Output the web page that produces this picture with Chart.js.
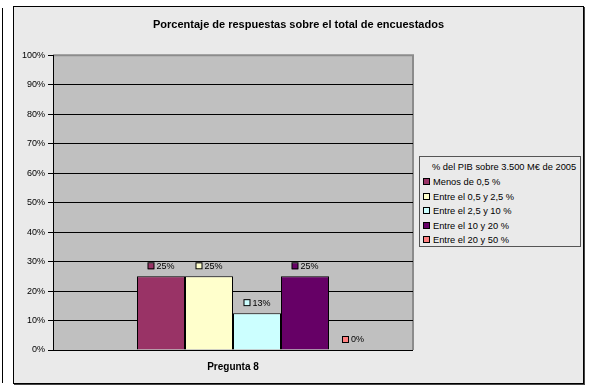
<!DOCTYPE html>
<html>
<head>
<meta charset="utf-8">
<script src="https://cdn.jsdelivr.net/npm/chart.js@4.4.0/dist/chart.umd.min.js"></script>
<style>
  body { margin: 0; background: #fff; width: 589px; height: 389px; position: relative; overflow: hidden; font-family: "Liberation Sans", Arial, sans-serif; }
  #side { position: absolute; left: 2px; top: 8px; width: 0; height: 375px; border-left: 1px solid #000; }
  #frame { position: absolute; left: 13px; top: 6px; width: 569px; height: 376px; border: 1px solid #000; background: #eaeaea; box-shadow: 1px 1px 0 #444; }
  #frame canvas { position: absolute; left: 0; top: 0; }
  #legend { position: absolute; left: 405px; top: 149px; width: 160px; height: 89px; border: 1px solid #555; background: #eaeaea; font-size: 9.3px; color: #000; }
  #legend .ttl { position: absolute; left: 12px; top: 5px; white-space: nowrap; }
  #legend .it { position: absolute; left: 3px; white-space: nowrap; }
  #legend .sw { display: inline-block; width: 5px; height: 5px; border: 1px solid #000; margin-right: 3px; vertical-align: 0px; }
</style>
</head>
<body>
<div id="side"></div>
<div id="frame">
  <canvas id="chart" width="569" height="376"></canvas>
  <div id="legend"></div>
</div>
<script>
const titulo = 'Porcentaje de respuestas sobre el total de encuestados';
const tituloLeyenda = '% del PIB sobre 3.500 M€ de 2005';
const categorias = ['Pregunta 8'];
const series = ['Menos de 0,5 %', 'Entre el 0,5 y 2,5 %', 'Entre el 2,5 y 10 %', 'Entre el 10 y 20 %', 'Entre el 20 y 50 %'];
const valores = [25, 25, 12.5, 25, 0];
const colores = ['#993366', '#ffffcc', '#ccffff', '#660066', '#ff8080'];

// hueco vacío antes de las series (como en el original)
const datasets = [{ label: '', data: [null], backgroundColor: 'transparent', borderWidth: 0, hueco: true }];
series.forEach((s, i) => {
  datasets.push({
    label: s,
    data: [valores[i]],
    backgroundColor: colores[i],
    borderColor: '#000',
    borderWidth: 1
  });
});

// leyenda en HTML
const leg = document.getElementById('legend');
leg.innerHTML = '<div class="ttl">' + tituloLeyenda + '</div>' +
  series.map((s, i) => '<div class="it" style="top:' + (20 + i * 14.6) + 'px"><span class="sw" style="background:' + colores[i] + '"></span>' + s + '</div>').join('');

const fondoPlot = {
  id: 'fondoPlot',
  beforeDraw(chart) {
    const { ctx, chartArea: a } = chart;
    ctx.save();
    ctx.fillStyle = '#c0c0c0';
    ctx.fillRect(a.left, a.top, a.right - a.left, a.bottom - a.top);
    ctx.strokeStyle = '#8c8c8c';
    ctx.lineWidth = 2;
    ctx.beginPath();
    ctx.moveTo(a.left, a.top);
    ctx.lineTo(a.right, a.top);
    ctx.lineTo(a.right, a.bottom);
    ctx.stroke();
    ctx.restore();
  }
};

const etiquetas = {
  id: 'etiquetas',
  afterDatasetsDraw(chart) {
    const ctx = chart.ctx;
    ctx.save();
    ctx.font = '9px "Liberation Sans", Arial, sans-serif';
    ctx.textBaseline = 'middle';
    chart.data.datasets.forEach((ds, di) => {
      if (ds.hueco) return;
      chart.getDatasetMeta(di).data.forEach((bar, j) => {
        const txt = Math.round(ds.data[j]) + '%';
        const tw = ctx.measureText(txt).width;
        const total = 7 + 2 + tw;
        const x0 = bar.x - total / 2;
        const y = bar.y - 10;
        ctx.fillStyle = ds.backgroundColor;
        ctx.fillRect(x0 + 0.5, y - 3, 6, 6);
        ctx.strokeStyle = '#000';
        ctx.lineWidth = 1;
        ctx.strokeRect(x0 + 0.5, y - 3.5, 6, 6);
        ctx.fillStyle = '#000';
        ctx.textAlign = 'left';
        ctx.fillText(txt, x0 + 9, y);
      });
    });
    ctx.restore();
  }
};

new Chart(document.getElementById('chart'), {
  type: 'bar',
  data: { labels: categorias, datasets: datasets },
  plugins: [fondoPlot, etiquetas],
  options: {
    responsive: false,
    animation: false,
    layout: { padding: 0 },
    datasets: { bar: { categoryPercentage: 0.8, barPercentage: 1.0 } },
    scales: {
      x: {
        afterFit: s => { s.height = 33; },
        grid: { display: false, drawTicks: false },
        border: { display: false },
        ticks: { color: '#000', padding: 11, font: { family: '"Liberation Sans", Arial, sans-serif', size: 10, weight: 'bold' } }
      },
      y: {
        min: 0,
        max: 100,
        afterFit: s => { s.width = 39; },
        ticks: {
          stepSize: 10,
          color: '#000',
          padding: 3,
          callback: v => v + '%',
          font: { family: '"Liberation Sans", Arial, sans-serif', size: 9 }
        },
        grid: { color: c => c.tick && c.tick.value === 100 ? '#8c8c8c' : '#000', tickColor: '#000', tickLength: 5, lineWidth: 1 },
        border: { color: '#000', width: 1 }
      },
      // espacio a la derecha para la leyenda
      derecha: {
        position: 'right',
        display: true,
        min: 0,
        max: 100,
        afterFit: s => { s.width = 170; },
        ticks: { display: false },
        grid: { display: false, drawTicks: false },
        border: { display: false }
      }
    },
    plugins: {
      legend: { display: false },
      tooltip: { enabled: false },
      title: {
        display: true,
        text: titulo,
        color: '#000',
        padding: { top: 11, bottom: 24 },
        font: { family: '"Liberation Sans", Arial, sans-serif', size: 11, weight: 'bold' }
      }
    }
  }
});
</script>
</body>
</html>
